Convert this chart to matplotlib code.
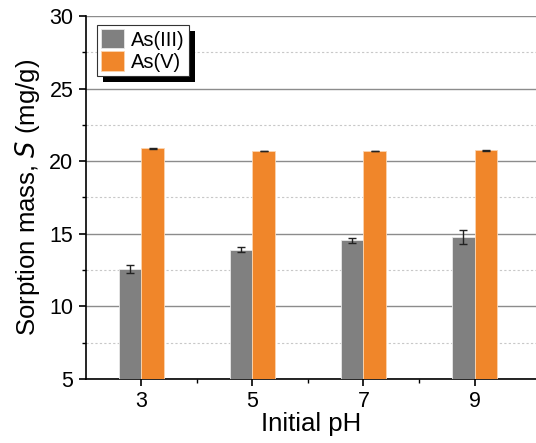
import matplotlib.pyplot as plt
import numpy as np
from matplotlib.ticker import MultipleLocator
from matplotlib.patches import Rectangle
from matplotlib.transforms import IdentityTransform

plt.rcParams['font.family'] = ['Liberation Sans', 'DejaVu Sans']

ph_labels = ["3", "5", "7", "9"]
as3_mean = [12.58, 13.90, 14.55, 14.78]
as3_err = [0.30, 0.17, 0.19, 0.50]
as5_mean = [20.88, 20.70, 20.70, 20.75]
as5_err = [0.04, 0.03, 0.03, 0.03]


def main():
    fig = plt.figure(figsize=(5.36, 4.43), dpi=100)
    ax = fig.add_axes([0.1604, 0.1445, 0.8396, 0.8194])

    x = np.arange(len(ph_labels))
    w = 0.205
    ax.bar(x - w / 2, np.array(as3_mean) - 5, w, bottom=5, color="#808080",
           edgecolor="#e8e8e8", linewidth=0.6, label="As(III)", zorder=3)
    ax.bar(x + w / 2, np.array(as5_mean) - 5, w, bottom=5, color="#f0862a",
           edgecolor="#fbd5b0", linewidth=0.6, label="As(V)", zorder=3)
    ax.errorbar(x - w / 2, as3_mean, yerr=as3_err, fmt="none", ecolor="#222222",
                elinewidth=1.0, capsize=3, capthick=1.0, zorder=4)
    ax.errorbar(x + w / 2, as5_mean, yerr=as5_err, fmt="none", ecolor="#222222",
                elinewidth=1.0, capsize=3, capthick=1.0, zorder=4)

    ax.set_xlim(-0.5, 3.554)
    ax.set_ylim(5, 30)
    ax.set_xticks(x)
    ax.set_xticklabels(ph_labels)
    ax.set_xticks(x[:-1] + 0.5, minor=True)
    ax.yaxis.set_major_locator(MultipleLocator(5))
    ax.yaxis.set_minor_locator(MultipleLocator(2.5))

    ax.grid(True, which="major", axis="y", color="#8c8c8c", linewidth=1.0, zorder=0)
    ax.grid(True, which="minor", axis="y", color="#c8c8c8", linestyle=(0, (2, 2)),
            linewidth=0.8, zorder=0)

    for s in ["top", "right"]:
        ax.spines[s].set_visible(False)
    ax.spines["left"].set_linewidth(1.2)
    ax.spines["bottom"].set_linewidth(1.2)
    ax.tick_params(axis="both", which="major", direction="out", length=5, width=1.2,
                   labelsize=15.5, colors="black", pad=4)
    ax.tick_params(axis="both", which="minor", direction="out", length=3, width=1.0)

    ax.set_xlabel("Initial pH", fontsize=18.5, labelpad=0)
    ax.set_ylabel("Sorption mass, $\\it{S}$ (mg/g)", fontsize=18.5, labelpad=5)

    leg = ax.legend(loc="upper left", bbox_to_anchor=(0.024, 0.975), fontsize=14.5,
                    frameon=True, fancybox=False, shadow=False, borderpad=0.2,
                    handlelength=1.15, handleheight=1.1, handletextpad=0.35,
                    labelspacing=0.08, borderaxespad=0, framealpha=1)
    frame = leg.get_frame()
    frame.set_edgecolor("#333333")
    frame.set_linewidth(0.8)
    leg.set_zorder(6)

    # black drop shadow behind the legend box
    fig.canvas.draw()
    bb = leg.get_window_extent()
    off = 6
    shadow = Rectangle((bb.x0 + off, bb.y0 - off), bb.width, bb.height,
                       transform=IdentityTransform(), facecolor="black",
                       edgecolor="none", zorder=5.5, clip_on=False)
    ax.add_patch(shadow)

    fig.savefig("out.png", dpi=100)
    plt.close(fig)


if __name__ == "__main__":
    main()
